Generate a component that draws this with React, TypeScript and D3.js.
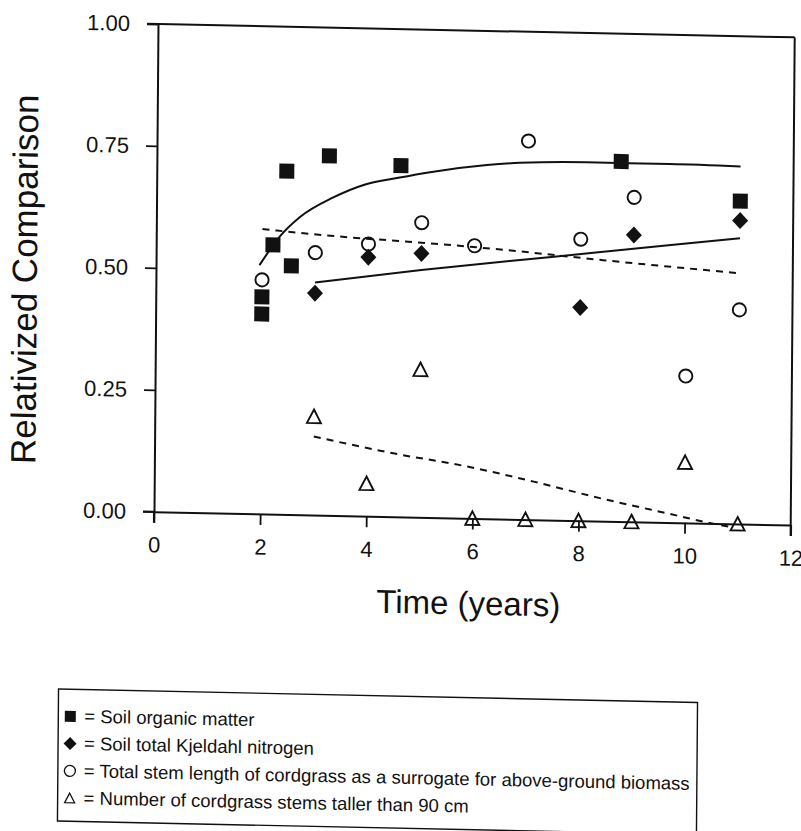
import React, { useEffect, useRef } from 'react';
import * as d3 from 'd3';

const xTicks = [0, 2, 4, 6, 8, 10, 12];
const yTicks = [0, 0.25, 0.5, 0.75, 1];

// Soil organic matter (filled squares)
const omX = [2, 2, 2.2, 2.45, 2.55, 3.25, 4.6, 8.75, 11];
const omY = [0.445, 0.41, 0.552, 0.704, 0.51, 0.737, 0.72, 0.738, 0.662];
// Soil total Kjeldahl nitrogen (filled diamonds)
const tknX = [3, 4, 5, 8, 9, 11];
const tknY = [0.455, 0.531, 0.541, 0.437, 0.588, 0.622];
// Total stem length of cordgrass (open circles)
const stemX = [2, 3, 4, 5, 6, 7, 8, 9, 10, 11];
const stemY = [0.48, 0.538, 0.558, 0.604, 0.559, 0.776, 0.577, 0.665, 0.301, 0.439];
// Stems taller than 90 cm (open triangles)
const tallX = [3, 4, 5, 6, 7, 8, 9, 10, 11];
const tallY = [0.202, 0.067, 0.303, 0, 0, 0, 0, 0.124, 0];

// trend lines as printed in the figure
const omFitX = [1.95, 2.33, 2.7, 3.33, 3.93, 4.55, 5.15, 6.22, 6.84, 8.1, 9.67, 11];
const omFitY = [0.51, 0.57, 0.61, 0.652, 0.68, 0.695, 0.708, 0.725, 0.731, 0.735, 0.735, 0.733];
const tknFitX = [3, 5, 7.5, 9.7, 11];
const tknFitY = [0.477, 0.507, 0.54, 0.569, 0.586];
const stemFitX = [2, 3.46, 5.16, 6.54, 8.42, 11];
const stemFitY = [0.584, 0.572, 0.562, 0.552, 0.535, 0.514];
const tallFitX = [3, 4.5, 5.9, 7.15, 8.4, 9.66, 10.67, 10.9];
const tallFitY = [0.161, 0.13, 0.106, 0.078, 0.047, 0.019, -0.003, -0.007];

const legendLabels = [
  '= Soil organic matter',
  '= Soil total Kjeldahl nitrogen',
  '= Total stem length of cordgrass as a surrogate for above-ground biomass',
  '= Number of cordgrass stems taller than 90 cm',
];

const FONT = '"Liberation Sans", Arial, Helvetica, sans-serif';

function ChartFigure() {
  const ref = useRef<SVGSVGElement>(null);

  useEffect(() => {
    const svg = d3.select(ref.current);
    svg.selectAll('*').remove();

    const width = 801;
    const height = 831;
    const x0 = 154;
    const y0 = 511.7;

    const x = d3.scaleLinear().domain([0, 12]).range([x0, 790.7]);
    const y = d3.scaleLinear().domain([0, 1]).range([y0, 24]);

    svg.attr('width', width).attr('height', height);

    // the scanned page is slightly tilted
    const g = svg
      .append('g')
      .attr('transform', `translate(${x0},${y0}) matrix(1,0.021,-0.0082,1,0,0) translate(${-x0},${-y0})`);

    const yAxis = g
      .append('g')
      .attr('transform', `translate(${x0},0)`)
      .call(
        d3.axisLeft(y).tickValues(yTicks).tickSize(11).tickSizeOuter(0).tickPadding(17)
          .tickFormat(d3.format('.2f'))
      );
    const xAxis = g
      .append('g')
      .attr('transform', `translate(0,${y0})`)
      .call(d3.axisBottom(x).tickValues(xTicks).tickSize(11).tickSizeOuter(0).tickPadding(14));

    [yAxis, xAxis].forEach((a) => {
      a.attr('font-family', FONT).attr('font-size', 22);
      a.selectAll('line').attr('stroke', '#111').attr('stroke-width', 1.8);
      a.selectAll('path').attr('stroke', '#111').attr('stroke-width', 2);
      a.selectAll('text').attr('fill', '#111');
    });

    // frame: left extension, top and right sides
    const frame = [
      [x0 - 11, y(1), x(12), y(1)],
      [x0 - 11, y(0), x0, y(0)],
      [x(12), y(1), x(12), y(0) + 11],
      [x0, y(0), x0, y(0) + 11],
    ];
    g.append('g')
      .selectAll('line')
      .data(frame)
      .join('line')
      .attr('x1', (d) => d[0])
      .attr('y1', (d) => d[1])
      .attr('x2', (d) => d[2])
      .attr('y2', (d) => d[3])
      .attr('stroke', '#111')
      .attr('stroke-width', 2);

    // axis titles
    g.append('text')
      .attr('transform', 'translate(35,282) rotate(-90)')
      .attr('text-anchor', 'middle')
      .attr('font-family', FONT)
      .attr('font-size', 35)
      .attr('fill', '#111')
      .text('Relativized Comparison');

    g.append('text')
      .attr('x', 469)
      .attr('y', 608)
      .attr('text-anchor', 'middle')
      .attr('font-family', FONT)
      .attr('font-size', 33)
      .attr('fill', '#111')
      .text('Time (years)');

    // trend lines
    const line = d3
      .line<[number, number]>()
      .x((d) => x(d[0]))
      .y((d) => y(d[1]))
      .curve(d3.curveMonotoneX);

    const fits = [
      { xs: omFitX, ys: omFitY, dash: null },
      { xs: tknFitX, ys: tknFitY, dash: null },
      { xs: stemFitX, ys: stemFitY, dash: '7,6' },
      { xs: tallFitX, ys: tallFitY, dash: '7,6' },
    ];
    fits.forEach((f) => {
      g.append('path')
        .attr('d', line(d3.zip(f.xs, f.ys) as [number, number][]))
        .attr('fill', 'none')
        .attr('stroke', '#111')
        .attr('stroke-width', 2)
        .attr('stroke-dasharray', f.dash);
    });

    // markers
    const sq = d3.symbol().type(d3.symbolSquare).size(225)();
    const diamond = 'M0,-8.5L8,0L0,8.5L-8,0Z';
    const tri = 'M0,-7L7,6.5L-7,6.5Z';

    g.append('g')
      .selectAll('path')
      .data(d3.zip(omX, omY))
      .join('path')
      .attr('d', sq)
      .attr('transform', (d) => `translate(${x(d[0])},${y(d[1])})`)
      .attr('fill', '#111');

    g.append('g')
      .selectAll('path')
      .data(d3.zip(tknX, tknY))
      .join('path')
      .attr('d', diamond)
      .attr('transform', (d) => `translate(${x(d[0])},${y(d[1])})`)
      .attr('fill', '#111');

    g.append('g')
      .selectAll('circle')
      .data(d3.zip(stemX, stemY))
      .join('circle')
      .attr('cx', (d) => x(d[0]))
      .attr('cy', (d) => y(d[1]))
      .attr('r', 6.6)
      .attr('fill', 'none')
      .attr('stroke', '#111')
      .attr('stroke-width', 1.9);

    g.append('g')
      .selectAll('path')
      .data(d3.zip(tallX, tallY))
      .join('path')
      .attr('d', tri)
      .attr('transform', (d) => `translate(${x(d[0])},${y(d[1])})`)
      .attr('fill', 'none')
      .attr('stroke', '#111')
      .attr('stroke-width', 1.9)
      .attr('stroke-linejoin', 'miter');

    // legend box
    const lg = g.append('g');
    lg.append('rect')
      .attr('x', 60)
      .attr('y', 691)
      .attr('width', 639)
      .attr('height', 132)
      .attr('fill', 'none')
      .attr('stroke', '#111')
      .attr('stroke-width', 1.4);

    const rowY = (i: number) => 724 + i * 27.3;
    const legendMarks = [
      d3.symbol().type(d3.symbolSquare).size(121)(),
      'M0,-6.5L6.5,0L0,6.5L-6.5,0Z',
      null,
      'M0,-5L5,4.5L-5,4.5Z',
    ];
    legendMarks.forEach((m, i) => {
      const cy = rowY(i) - 6;
      if (m === null) {
        lg.append('circle')
          .attr('cx', 72)
          .attr('cy', cy)
          .attr('r', 5.5)
          .attr('fill', 'none')
          .attr('stroke', '#111')
          .attr('stroke-width', 1.3);
      } else {
        lg.append('path')
          .attr('d', m)
          .attr('transform', `translate(72,${cy})`)
          .attr('fill', i < 2 ? '#111' : 'none')
          .attr('stroke', '#111')
          .attr('stroke-width', i < 2 ? 0 : 1.3);
      }
    });

    lg.selectAll('text')
      .data(legendLabels)
      .join('text')
      .attr('x', 86)
      .attr('y', (d, i) => rowY(i))
      .attr('font-family', FONT)
      .attr('font-size', 18.5)
      .attr('fill', '#111')
      .text((d) => d);
  }, []);

  return <svg ref={ref} style={{ position: 'absolute', left: 0, top: 0 }}></svg>;
}

export default function App() {
  return <ChartFigure />;
}
